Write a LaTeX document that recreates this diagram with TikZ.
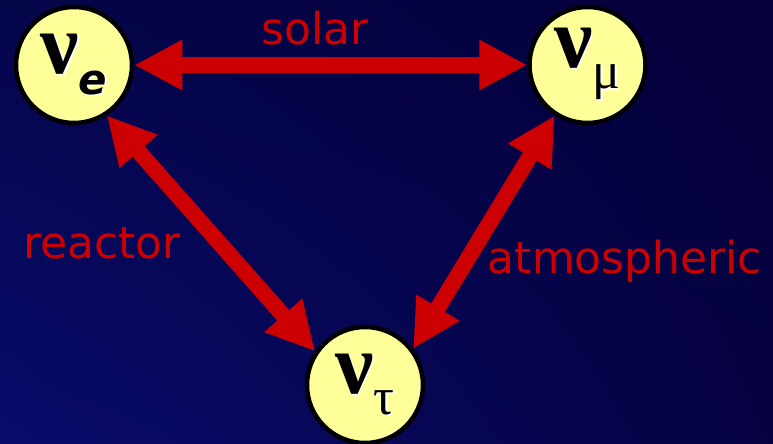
\documentclass[tikz,border=0pt]{standalone}
\usepackage{fontspec}
\setmainfont{DejaVu Sans}
\newfontfamily\greekfont{Liberation Serif}
\usetikzlibrary{positioning, arrows.meta, shadings}

\definecolor{bgtopleft}{RGB}{5,5,74}
\definecolor{bgbotleft}{RGB}{8,12,108}
\definecolor{bgtopright}{RGB}{4,0,58}
\definecolor{bgbotright}{RGB}{6,2,66}
\definecolor{nuyellow}{RGB}{255,255,153}
\definecolor{oscred}{RGB}{204,0,0}

\newcommand{\glyphshadow}[1]{\rlap{\kern1.5pt\raisebox{-1.5pt}{\color{white}#1}}#1}
\newcommand{\flavour}[1]{{\greekfont\bfseries\fontsize{86}{86}\selectfont\glyphshadow{ν}}\raisebox{-21pt}{#1}}

\begin{document}
\begin{tikzpicture}[
    x=1pt, y=-1pt,
    flavour/.style={circle, draw=black, line width=4.5pt, fill=nuyellow, minimum size=116pt, inner sep=0pt, text=black},
    osc/.style={{Triangle[width=47pt,length=48pt]}-{Triangle[width=47pt,length=48pt]}, line width=16pt, draw=oscred},
    mixlabel/.style={text=oscred, font=\fontsize{44}{44}\selectfont, anchor=base, inner sep=0pt},
]

\useasboundingbox (0,0) rectangle (773,444);
\shade[upper left=bgtopleft, upper right=bgtopright, lower left=bgbotleft, lower right=bgbotright] (0,0) rectangle (773,444);

% Flavours
\node[flavour] (nue) at (74,65) {\flavour{{\bfseries\itshape\fontsize{42}{42}\selectfont\glyphshadow{e}}}};
\node[flavour, right=393pt of nue] (numu) {\flavour{{\greekfont\fontsize{52}{52}\selectfont\glyphshadow{μ}}}};
\node[flavour] (nutau) at (365,385) {\flavour{{\greekfont\fontsize{52}{52}\selectfont\glyphshadow{τ}}}};

% Oscillations
\draw[osc] (nue.east) -- (numu.west);
\draw[osc] (nue.-57) -- (nutau.146);
\draw[osc] (numu.-123) -- (nutau.37);

% Labels
\node[mixlabel] (solar) at (315,45) {solar};
\node[mixlabel] (reactor) at (102,258) {reactor};
\node[mixlabel] (atmos) at (625,273) {atmospheric};

\end{tikzpicture}
\end{document}
